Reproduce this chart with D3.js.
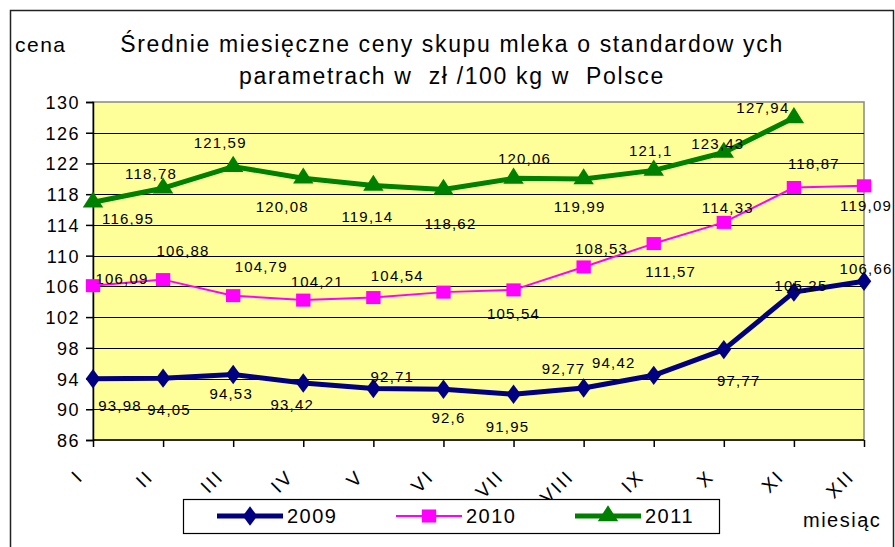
<!DOCTYPE html>
<html>
<head>
<meta charset="utf-8">
<script src="https://cdn.jsdelivr.net/npm/d3@7"></script>
<style>
    body { margin: 0; background: #fff; }
    svg { font-family: Arial, "Liberation Sans", sans-serif; }
    .grid line { stroke: #000; stroke-width: 1; }
    .lbl { font-size: 15px; letter-spacing: 1.2px; fill: #000; }
</style>
</head>
<body>
<div id="chart"></div>
<script>
// dane: średnie ceny skupu mleka, zł/100 kg
var months = ["I", "II", "III", "IV", "V", "VI", "VII", "VIII", "IX", "X", "XI", "XII"];
var years = ["2009", "2010", "2011"];
var v2009 = [93.98, 94.05, 94.53, 93.42, 92.71, 92.6, 91.95, 92.77, 94.42, 97.77, 105.25, 106.66];
var v2010 = [106.09, 106.88, 104.79, 104.21, 104.54, 105.25, 105.54, 108.53, 111.57, 114.33, 118.87, 119.09];
var v2011 = [116.95, 118.78, 121.59, 120.08, 119.14, 118.62, 120.06, 119.99, 121.1, 123.43, 127.94];
var shown2010 = [true, true, true, true, true, false, true, true, true, true, true, true];
var yTicks = [86, 90, 94, 98, 102, 106, 110, 114, 118, 122, 126, 130];

// przesunięcia etykiet (jak w Excelu, trochę porozrzucane)
var off2009 = [[27, 27], [6, 31], [-2, 19], [-11, 22], [19, -12], [5, 28], [-6, 32], [-20, -19], [-40, -13], [15, 31], [7, -7], [2, -13]];
var off2010 = [[29, -7], [20, -29], [28, -29], [14, -19], [24, -22], [0, 0], [0, 24], [18, -18], [17, 28], [4, -15], [20, -24], [2, 20]];
var off2011 = [[35, 16], [-12, -15], [-13, -24], [-21, 28], [-6, 31], [7, 34], [11, -20], [-4, 28], [-3, -20], [-6, -9], [-31, -10]];

var W = 895, H = 547;
var plot = {left: 93, top: 102, right: 864, bottom: 440};

var svg = d3.select("#chart").append("svg")
    .attr("width", W)
    .attr("height", H);

// ramka
svg.append("rect")
    .attr("x", 10.5).attr("y", 10.5)
    .attr("width", 883).attr("height", 560)
    .attr("fill", "#fff")
    .attr("stroke", "#222")
    .attr("stroke-width", 1.5);

var x = d3.scalePoint().domain(months).range([plot.left, plot.right]);
var y = d3.scaleLinear().domain([86, 130]).range([plot.bottom, plot.top]);

// tło wykresu
svg.append("rect")
    .attr("x", plot.left).attr("y", plot.top)
    .attr("width", plot.right - plot.left)
    .attr("height", plot.bottom - plot.top)
    .attr("fill", "#FFFF99")
    .attr("stroke", "#888")
    .attr("stroke-width", 1.5);

svg.append("g")
    .attr("class", "grid")
    .selectAll("line")
    .data(yTicks.filter(function (d) { return d !== 86 && d !== 130; }))
    .enter().append("line")
    .attr("x1", plot.left).attr("x2", plot.right)
    .attr("y1", function (d) { return Math.round(y(d)) + 0.5; })
    .attr("y2", function (d) { return Math.round(y(d)) + 0.5; });

// osie
var yAxis = d3.axisLeft(y).tickValues(yTicks).tickSize(7).tickPadding(6);
var yG = svg.append("g")
    .attr("transform", "translate(" + plot.left + ",0)")
    .call(yAxis);
yG.selectAll("text")
    .style("font-size", "18px")
    .style("letter-spacing", "1.5px")
    .attr("dy", "0.36em")
    .attr("fill", "#000");
yG.selectAll("line, path").attr("stroke", "#000").attr("stroke-width", 1.5);

var xAxis = d3.axisBottom(x).tickSize(7).tickFormat("");
var xG = svg.append("g")
    .attr("transform", "translate(0," + plot.bottom + ")")
    .call(xAxis);
xG.select("path.domain").attr("d", "M" + plot.left + ",0H" + plot.right);
xG.selectAll("line, path").attr("stroke", "#000").attr("stroke-width", 1.5);

svg.append("g").selectAll("text")
    .data(months)
    .enter().append("text")
    .attr("transform", function (d) {
        return "translate(" + (x(d) - 13) + "," + (plot.bottom + 33) + ") rotate(-45)";
    })
    .attr("text-anchor", "end")
    .attr("dy", "0.35em")
    .style("font-size", "19px")
    .style("letter-spacing", "2.5px")
    .text(function (d) { return d; });

// serie
var series = [
    {name: years[0], values: v2009, color: "#000080", width: 5, marker: d3.symbolDiamond, size: 150, off: off2009},
    {name: years[1], values: v2010, color: "#FF00FF", width: 2, marker: d3.symbolSquare, size: 170, off: off2010},
    {name: years[2], values: v2011, color: "#008000", width: 5, marker: d3.symbolTriangle, size: 150, off: off2011}
];

var line = d3.line()
    .x(function (d, i) { return x(months[i]); })
    .y(function (d) { return y(d); });

function markerTransform(s, px, py) {
    var sy = s.marker === d3.symbolDiamond ? 0.85 : 1;
    return "translate(" + px + "," + py + ") scale(1.1," + sy + ")";
}

series.forEach(function (s) {
    svg.append("path")
        .attr("d", line(s.values))
        .attr("fill", "none")
        .attr("stroke", s.color)
        .attr("stroke-width", s.width)
        .attr("stroke-linejoin", "round");

    svg.append("g").selectAll("path")
        .data(s.values)
        .enter().append("path")
        .attr("d", d3.symbol().type(s.marker).size(s.size))
        .attr("transform", function (d, i) { return markerTransform(s, x(months[i]), y(d)); })
        .attr("fill", s.color);
});

// etykiety danych
series.forEach(function (s) {
    var pts = s.values.map(function (v, i) { return {v: v, i: i}; })
        .filter(function (p) { return s.name !== "2010" || shown2010[p.i]; });
    svg.append("g").selectAll("text")
        .data(pts)
        .enter().append("text")
        .attr("class", "lbl")
        .attr("x", function (p) { return x(months[p.i]) + s.off[p.i][0]; })
        .attr("y", function (p) { return y(p.v) + s.off[p.i][1]; })
        .attr("dy", "0.36em")
        .attr("text-anchor", "middle")
        .text(function (p) { return String(p.v).replace(".", ","); });
});

// tytuł
var title = svg.append("text")
    .attr("text-anchor", "middle")
    .style("font-size", "23px")
    .style("letter-spacing", "1.65px")
    .style("white-space", "pre")
    .attr("fill", "#000");
title.append("tspan").attr("x", 452).attr("y", 52)
    .text("Średnie miesięczne ceny skupu mleka o standardow ych");
title.append("tspan").attr("x", 452).attr("y", 84)
    .text("parametrach w  zł /100 kg w  Polsce");

svg.append("text")
    .attr("x", 15).attr("y", 52)
    .style("font-size", "21px")
    .style("letter-spacing", "1.5px")
    .text("cena");

svg.append("text")
    .attr("x", 803).attr("y", 527)
    .style("font-size", "20px")
    .style("letter-spacing", "1.5px")
    .text("miesiąc");

// legenda
var legend = svg.append("g");
legend.append("rect")
    .attr("x", 183.5).attr("y", 499.5)
    .attr("width", 536).attr("height", 34)
    .attr("fill", "#fff")
    .attr("stroke", "#000")
    .attr("stroke-width", 1.2);

var legendX = [217, 396, 575];
series.forEach(function (s, i) {
    var g = legend.append("g").attr("transform", "translate(" + legendX[i] + ",516)");
    g.append("line")
        .attr("x1", 0).attr("x2", 66)
        .attr("stroke", s.color)
        .attr("stroke-width", s.width);
    g.append("path")
        .attr("d", d3.symbol().type(s.marker).size(s.size))
        .attr("transform", markerTransform(s, 33, 0))
        .attr("fill", s.color);
    g.append("text")
        .attr("x", 70).attr("y", 0)
        .attr("dy", "0.36em")
        .style("font-size", "20px")
        .style("letter-spacing", "1.5px")
        .text(s.name);
});
</script>
</body>
</html>
